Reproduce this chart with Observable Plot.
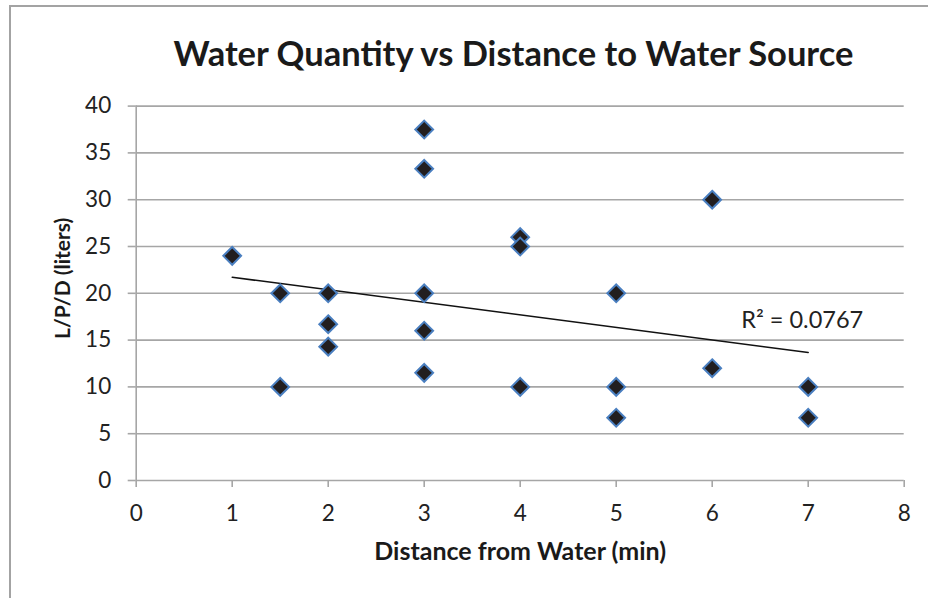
<!DOCTYPE html>
<html>
<head>
<meta charset="utf-8">
<script src="https://cdn.jsdelivr.net/npm/d3@7"></script>
<script src="https://cdn.jsdelivr.net/npm/@observablehq/plot@0.6"></script>
<style>
  html, body { margin: 0; padding: 0; background: #fff; overflow: hidden; }
  #wrap { position: relative; width: 928px; height: 598px; font-family: Lato, "Open Sans", sans-serif; }
  #frame { position: absolute; left: 9px; top: 5px; width: 1000px; height: 700px; border: 2px solid #a3a3a3; box-sizing: border-box; }
  #title { position: absolute; left: 0; top: 0; width: 1027px; height: 90px; text-align: center; line-height: 106px; font-size: 34.5px; font-weight: bold; color: #1a1a1a; }
  #chart { position: absolute; left: 0; top: 90px; }
</style>
</head>
<body>
<div id="wrap">
  <div id="frame"></div>
  <div id="title">Water Quantity vs Distance to Water Source</div>
  <div id="chart"></div>
</div>
<script>
// Distance from water (min)
const distance = [1, 1.5, 1.5, 2, 2, 2, 3, 3, 3, 3, 3, 4, 4, 4, 5, 5, 5, 6, 6, 7, 7];
// Liters per person per day
const lpd = [24, 20, 10, 20, 16.7, 14.3, 37.5, 33.3, 20, 16, 11.5, 26, 25, 10, 20, 10, 6.7, 30, 12, 10, 6.7];
const xTicks = [0, 1, 2, 3, 4, 5, 6, 7, 8];
const yTicks = [0, 5, 10, 15, 20, 25, 30, 35, 40];
const titleText = "Water Quantity vs Distance to Water Source";
const xLabel = "Distance from Water (min)";
const yLabel = "L/P/D (liters)";
const r2Label = "R² = 0.0767";

document.getElementById("title").textContent = titleText;

const points = distance.map((d, i) => ({x: d, y: lpd[i]}));

// least-squares fit (for placing the R² label at the end of the trend line)
const mx = d3.mean(distance), my = d3.mean(lpd);
const slope = d3.sum(points, p => (p.x - mx) * (p.y - my)) / d3.sum(points, p => (p.x - mx) ** 2);
const intercept = my - slope * mx;
const xEnd = d3.max(distance);
const labelAnchor = [{x: xEnd, y: intercept + slope * xEnd, text: r2Label}];

const grid = "#a6a6a6";

const chart = Plot.plot({
  width: 928,
  height: 508,
  marginLeft: 135.7,
  marginRight: 24.3,
  marginTop: 15.6,
  marginBottom: 118,
  style: {fontFamily: "Lato, 'Open Sans', sans-serif", color: "#222", background: "transparent", overflow: "visible"},
  x: {domain: [0, 8], ticks: xTicks},
  y: {domain: [0, 40], ticks: yTicks},
  marks: [
    Plot.ruleY(yTicks, {stroke: grid, strokeWidth: 1.6}),
    Plot.ruleX([0], {stroke: grid, strokeWidth: 1.6}),
    Plot.axisY({ticks: yTicks, tickSize: 8, tickPadding: 17, fontSize: 22.5, stroke: grid, strokeWidth: 1.6, fill: "#222", label: null}),
    Plot.axisX({ticks: xTicks, tickSize: 7, tickPadding: 17.5, fontSize: 22.5, stroke: grid, strokeWidth: 1.6, fill: "#222", label: null}),
    Plot.linearRegressionY(points, {x: "x", y: "y", ci: 0, stroke: "#111", strokeWidth: 1.5}),
    Plot.dot(points, {x: "x", y: "y", symbol: "diamond2", r: 8, fill: "#221e1f", stroke: "#4a7fc0", strokeWidth: 2}),
    Plot.text(labelAnchor, {x: "x", y: "y", text: "text", dx: -6, dy: -32, fontSize: 23.5, fill: "#222", textAnchor: "middle"}),
    Plot.text([xLabel], {frameAnchor: "bottom", dy: 71, lineAnchor: "middle", textAnchor: "middle", fontSize: 25, fontWeight: "bold", fill: "#1a1a1a"}),
    Plot.text([yLabel], {frameAnchor: "left", dx: -73, dy: -15, rotate: -90, lineAnchor: "middle", textAnchor: "middle", fontSize: 21, fontWeight: "bold", fill: "#1a1a1a"})
  ]
});
document.getElementById("chart").appendChild(chart);
</script>
</body>
</html>
